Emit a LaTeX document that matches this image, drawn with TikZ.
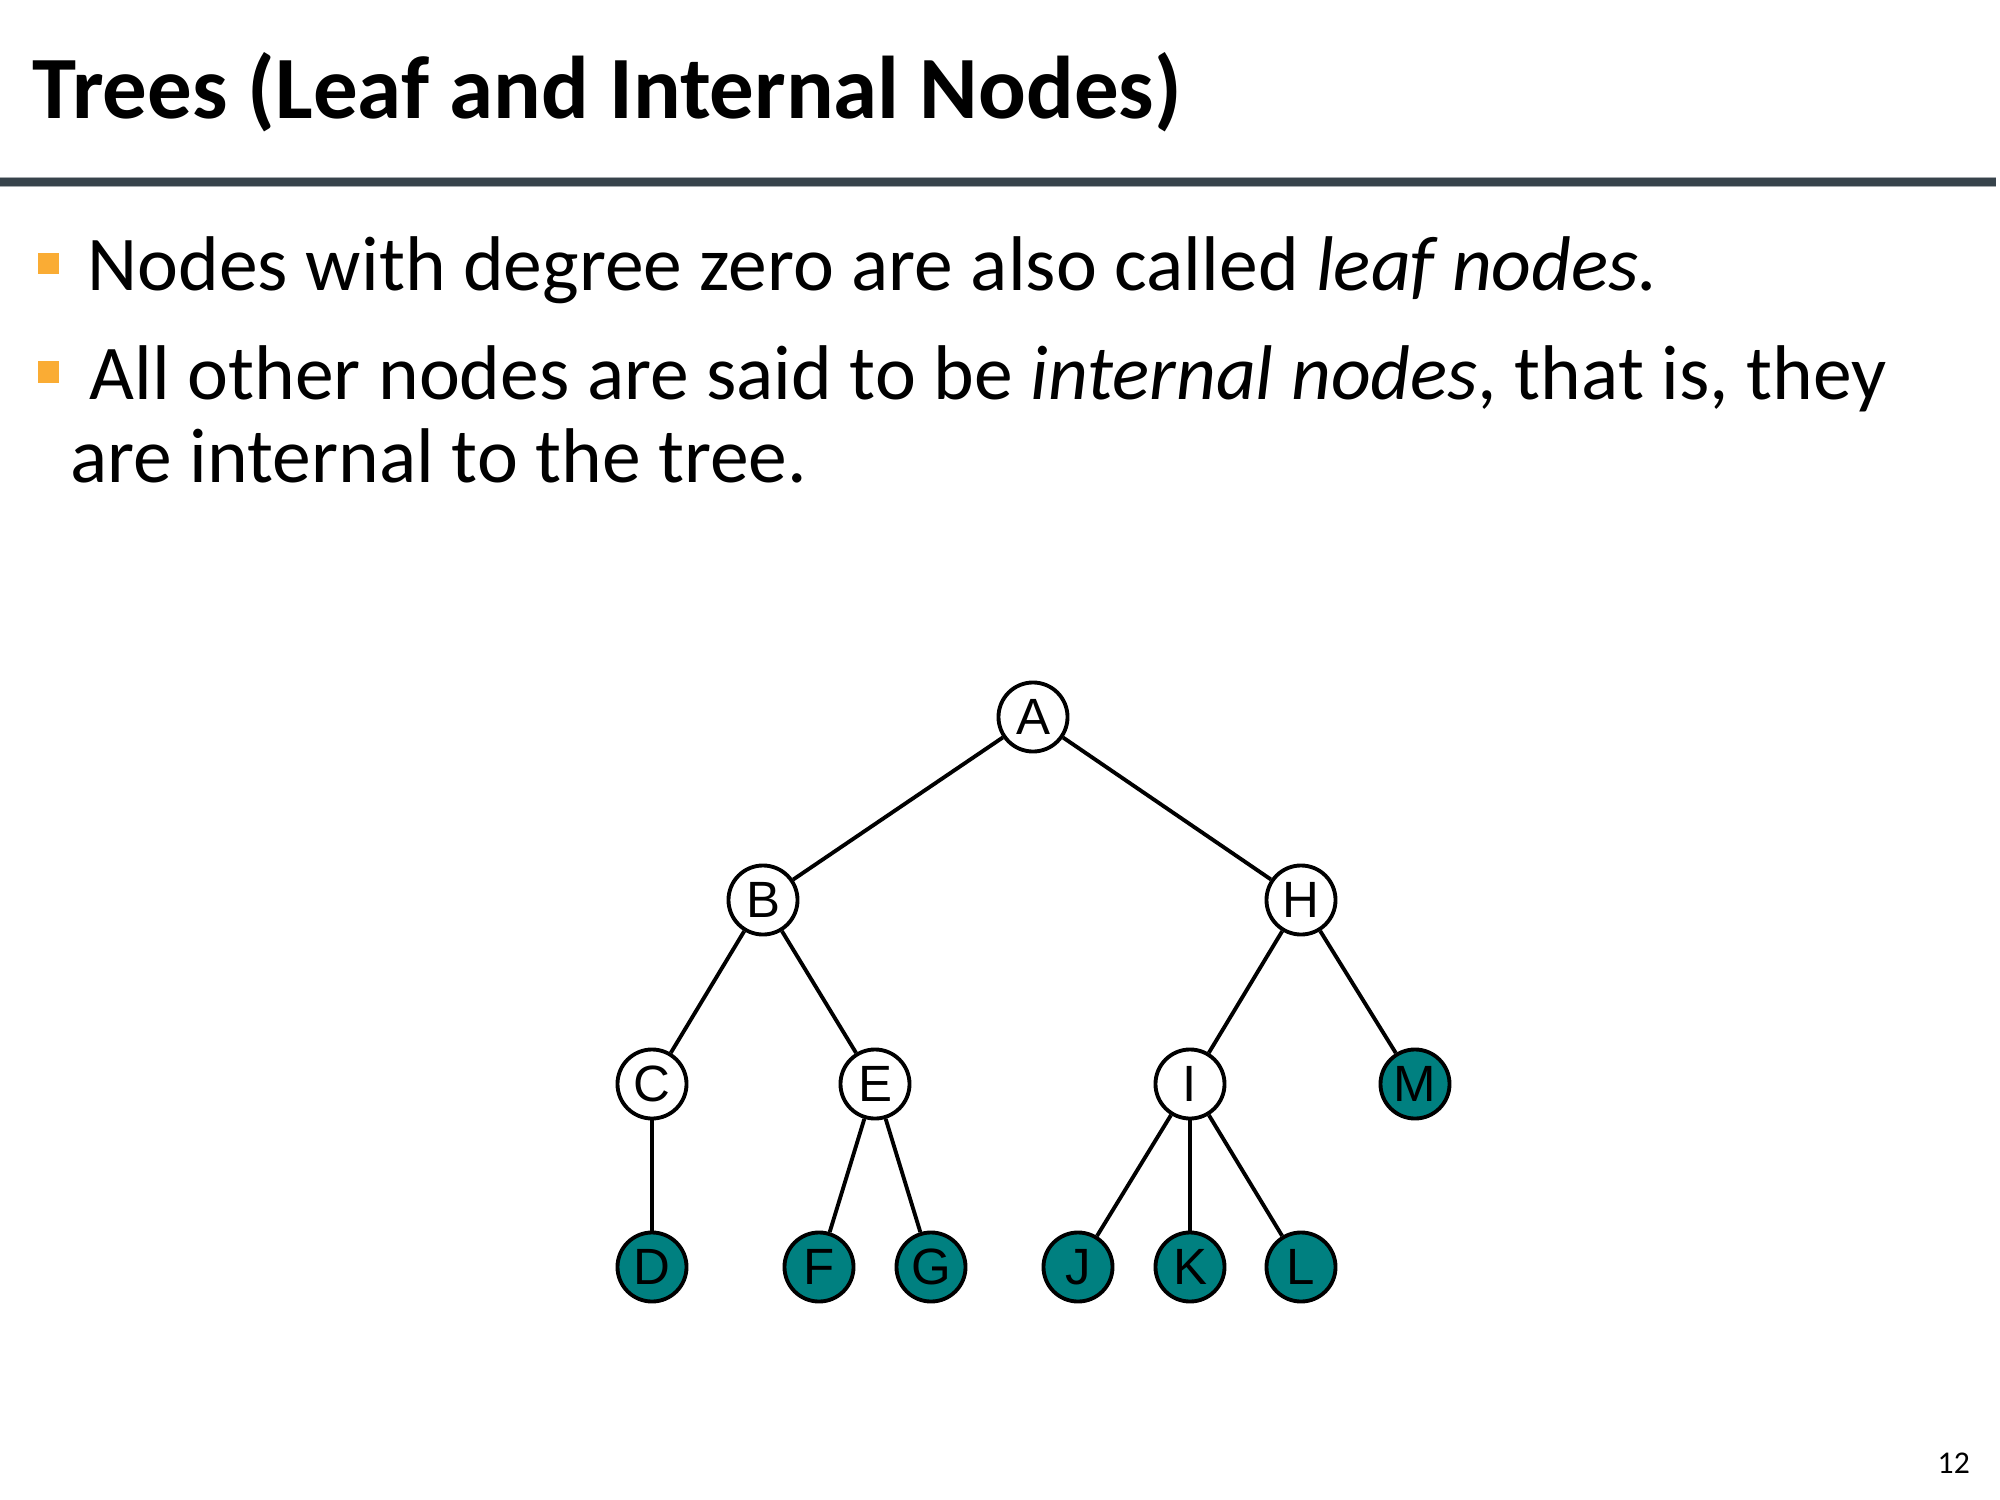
\documentclass[tikz,border=0pt]{standalone}
\usepackage{fontspec}
\setmainfont{Carlito}
\newfontfamily\arialfont{Liberation Sans}
\definecolor{rulegray}{RGB}{55,67,75}
\definecolor{bulletorange}{RGB}{250,172,52}
\definecolor{leafteal}{RGB}{0,128,128}
\tikzset{
  tn/.style={circle,draw=black,line width=1.1pt,minimum size=0.69cm,inner sep=0pt,font=\arialfont\fontsize{14.5}{14.5}\selectfont},
  inner/.style={tn,fill=white},
  leaf/.style={tn,fill=leafteal},
  edge/.style={line width=1.1pt,black},
  bodytext/.style={anchor=base west,inner sep=0pt,font=\fontsize{22.05}{27}\selectfont}
}
\begin{document}
\begin{tikzpicture}[x=0.01cm,y=-0.01cm]
\useasboundingbox (0,0) rectangle (2000,1500);
% title
\node[anchor=base west,inner sep=0pt,font=\fontsize{25.3}{30}\bfseries\selectfont] (title) at (32,119) {Trees (Leaf and Internal Nodes)};
% rule
\fill[rulegray!45] (0,177) rectangle (1996,187);
\fill[rulegray] (0,178) rectangle (1996,186);
% bullets
\fill[bulletorange] (38,253) rectangle (59,274);
\node[bodytext] (b1) at (87,291) {Nodes with degree zero are also called \textit{leaf nodes.}};
\fill[bulletorange] (38,361) rectangle (59,383);
\node[bodytext] (b2) at (89,399) {All other nodes are said to be \textit{internal nodes}, that is, they};
\node[bodytext] (b3) at (70,482) {are internal to the tree.};
% page number
\node[anchor=base west,inner sep=0pt,font=\fontsize{9}{10}\selectfont] (pg) at (1937,1473) {12};
% tree
\node[inner] (A) at (1033,717) {A};
\node[inner] (B) at (763,900) {B};
\node[inner] (H) at (1301,900) {H};
\node[inner] (C) at (652,1084) {C};
\node[inner] (E) at (875,1084) {E};
\node[inner] (I) at (1190,1084) {I};
\node[leaf] (M) at (1415,1084) {M};
\node[leaf] (D) at (652,1267) {D};
\node[leaf] (F) at (819,1267) {F};
\node[leaf] (G) at (931,1267) {G};
\node[leaf] (J) at (1078,1267) {J};
\node[leaf] (K) at (1190,1267) {K};
\node[leaf] (L) at (1301,1267) {L};
\draw[edge] (A) -- (B);
\draw[edge] (A) -- (H);
\draw[edge] (B) -- (C);
\draw[edge] (B) -- (E);
\draw[edge] (H) -- (I);
\draw[edge] (H) -- (M);
\draw[edge] (C) -- (D);
\draw[edge] (E) -- (F);
\draw[edge] (E) -- (G);
\draw[edge] (I) -- (J);
\draw[edge] (I) -- (K);
\draw[edge] (I) -- (L);
\end{tikzpicture}
\end{document}
